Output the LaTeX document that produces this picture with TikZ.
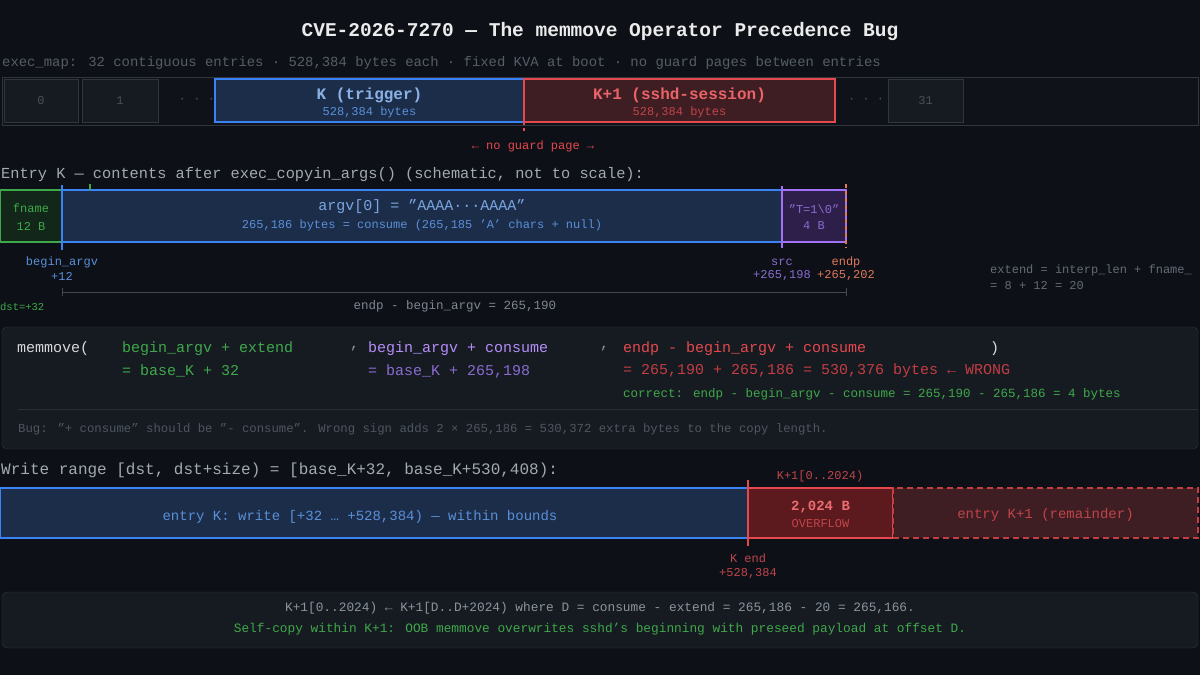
\documentclass[tikz,border=0pt]{standalone}
\usepackage{fontspec}
\setmainfont{Liberation Mono}
\begin{document}
\definecolor{bg}{HTML}{0D1117}
\definecolor{panel}{HTML}{161B22}
\definecolor{grid}{HTML}{30363D}
\definecolor{txt}{HTML}{8B949E}
\definecolor{dim}{HTML}{484F58}
\definecolor{bl}{HTML}{3B82F6}
\definecolor{blf}{HTML}{1C2D4A}
\definecolor{blt}{HTML}{5A8FD8}
\definecolor{rd}{HTML}{E5484D}
\definecolor{rdf}{HTML}{3E1E22}
\definecolor{rdt}{HTML}{C0444A}
\definecolor{rdo}{HTML}{5C1A1E}
\definecolor{gr}{HTML}{3FA84A}
\definecolor{grf}{HTML}{13261A}
\definecolor{pu}{HTML}{A371F7}
\definecolor{puf}{HTML}{2E1F4A}
\definecolor{put}{HTML}{8A6BD0}
\definecolor{og}{HTML}{E0785A}
\begin{tikzpicture}[x=1pt,y=-1pt,
  t/.style={font=\fontsize{15}{17}\selectfont,inner sep=0pt},
  s/.style={font=\fontsize{12}{14}\selectfont,inner sep=0pt},
  box/.style={line width=1.5pt}]
\fill[bg] (0,0) rectangle (1200,675);
\useasboundingbox (0,0) rectangle (1200,675);
\node[font=\fontsize{19.5}{22}\selectfont\bfseries,text=white!92!black] (title) at (600,31) {CVE-2026-7270 — The memmove Operator Precedence Bug};
\node[font=\fontsize{13.9}{16}\selectfont,inner sep=0pt,anchor=west,text=dim!80!txt] (sub) at (2,63) {exec\_map: 32 contiguous entries · 528,384 bytes each · fixed KVA at boot · no guard pages between entries};
% strip
\draw[grid,fill=bg!80!panel] (2,77) rectangle (1198,125);
\node[draw=grid,fill=panel,minimum width=74pt,minimum height=43pt,text=dim,s] (e0) at (41,100.5) {0};
\node[draw=grid,fill=panel,minimum width=76pt,minimum height=43pt,text=dim,s] (e1) at (120,100.5) {1};
\node[s,text=dim] (d1) at (197,100) {· · ·};
\node[box,draw=bl,fill=blf,minimum width=309pt,minimum height=43pt] (k) at (369.5,100.5) {};
\node[font=\fontsize{16}{18}\selectfont\bfseries,inner sep=0pt,text=blt!70!white] (kl) at (369.5,95) {K (trigger)};
\node[s,text=blt] (kb) at (369.5,112) {528,384 bytes};
\node[box,draw=rd,fill=rdf,minimum width=311pt,minimum height=43pt] (k1) at (679.5,100.5) {};
\node[font=\fontsize{16}{18}\selectfont\bfseries,inner sep=0pt,text=rd!85!white] (k1l) at (679.5,95) {K+1 (sshd-session)};
\node[s,text=rdt] (k1b) at (679.5,112) {528,384 bytes};
\node[s,text=dim] (d2) at (866,100) {· · ·};
\node[draw=grid,fill=panel,minimum width=75pt,minimum height=43pt,text=dim,s] (e31) at (925.5,100.5) {31};
\coordinate (g1) at (524,122); \coordinate (g2) at (524,134);
\draw[rd,dash pattern=on 3pt off 3pt,line width=1.2pt] (g1) -- (g2);
\node[s,text=rd] (ng) at (533,146) {← no guard page →};
% entry K
\node[font=\fontsize{15.3}{17}\selectfont,inner sep=0pt,anchor=west,text=txt!80!white] (ek) at (1,175) {Entry K — contents after exec\_copyin\_args() (schematic, not to scale):};
\node[box,draw=gr,fill=grf,minimum width=62pt,minimum height=52pt,inner sep=0pt] (fn) at (31,216) {};
\node[s,text=gr] at (31,208) {fname};
\node[s,text=gr] at (31,226) {12 B};
\node[box,draw=bl,fill=blf,minimum width=720pt,minimum height=52pt,inner sep=0pt] (argv) at (422,216) {};
\node[t,text=blt!80!white] at (422,207) {argv[0] = "AAAA···AAAA"};
\node[s,text=blt] at (422,225) {265,186 bytes = consume (265,185 'A' chars + null)};
\node[box,draw=pu,fill=puf,minimum width=64pt,minimum height=52pt,inner sep=0pt] (tb) at (814,216) {};
\node[s,text=put] at (814,209) {"T=1\textbackslash0"};
\node[s,text=put] at (814,226) {4 B};
\coordinate (ba1) at (62,185); \coordinate (ba2) at (62,250);
\draw[bl,line width=1.5pt] (ba1) -- (ba2);
\coordinate (gt1) at (90,184); \coordinate (gt2) at (90,190);
\draw[gr,line width=1.5pt] (gt1) -- (gt2);
\coordinate (sr1) at (782,186); \coordinate (sr2) at (782,248);
\draw[pu,line width=1.5pt] (sr1) -- (sr2);
\coordinate (ep1) at (846,184); \coordinate (ep2) at (846,248);
\draw[og,dash pattern=on 4pt off 3pt,line width=1.3pt] (ep1) -- (ep2);
\node[s,text=blt] (lba) at (62,262) {begin\_argv};
\node[s,text=blt] (lba2) at (62,276) {+12};
\node[s,text=put] (lsr) at (782,262) {src};
\node[s,text=put] (lsr2) at (782,276) {+265,198};
\node[s,text=og] (lep) at (846,262) {endp};
\node[s,text=og] (lep2) at (846,276) {+265,202};
\node[s,text=dim!60!txt,anchor=west] (ex1) at (990,270) {extend = interp\_len + fname\_};
\node[s,text=dim!60!txt,anchor=west] (ex2) at (990,286) {= 8 + 12 = 20};
\node[font=\fontsize{10.5}{12}\selectfont,inner sep=0pt,text=gr,anchor=west] (dst) at (0,307) {dst=+32};
\coordinate (m1) at (62,292); \coordinate (m2) at (846,292);
\draw[grid!80!txt] (m1) -- (m2);
\draw[grid!80!txt] (62,288) -- (62,296) (846,288) -- (846,296);
\node[font=\fontsize{12.5}{14}\selectfont,inner sep=0pt,text=txt!80!dim] (ml) at (455,306) {endp - begin\_argv = 265,190};
% code panel
\draw[grid,fill=panel,rounded corners=5pt] (2,327) rectangle (1198,449);
\node[t,anchor=west,text=white!85!black] (mm) at (17,349) {memmove(};
\node[t,anchor=west,text=gr] at (122,349) {begin\_argv + extend};
\node[t,anchor=west,text=gr] at (122,371) {= base\_K + 32};
\node[t,anchor=west,text=txt] at (350,349) {,};
\node[t,anchor=west,text=pu!80!white] at (368,349) {begin\_argv + consume};
\node[t,anchor=west,text=put] at (368,371) {= base\_K + 265,198};
\node[t,anchor=west,text=txt] at (600,349) {,};
\node[t,anchor=west,text=rd] at (623,349) {endp - begin\_argv + consume};
\node[t,anchor=west,text=rd!85!black] at (623,371) {= 265,190 + 265,186 = 530,376 bytes ← WRONG};
\node[font=\fontsize{12.5}{14}\selectfont,inner sep=0pt,anchor=west,text=gr] at (623,394) {correct: endp - begin\_argv - consume = 265,190 - 265,186 = 4 bytes};
\node[t,anchor=west,text=white!85!black] at (990,349) {)};
\draw[grid!70!panel] (18,409) -- (1198,409);
\node[font=\fontsize{12.3}{14}\selectfont,inner sep=0pt,anchor=west,text=dim!90!txt] (bug) at (18,429) {Bug: "+ consume" should be "- consume". Wrong sign adds 2 × 265,186 = 530,372 extra bytes to the copy length.};
% write range
\node[font=\fontsize{16}{18}\selectfont,inner sep=0pt,anchor=west,text=txt!80!white] (wr) at (1,470) {Write range [dst, dst+size) = [base\_K+32, base\_K+530,408):};
\node[box,draw=bl,fill=blf,minimum width=748pt,minimum height=50pt,inner sep=0pt] (wk) at (374,513) {};
\node[font=\fontsize{14}{16}\selectfont,inner sep=0pt,text=blt] at (360,517) {entry K: write [+32 … +528,384) — within bounds};
\node[box,draw=rd,fill=rdo,minimum width=145pt,minimum height=50pt,inner sep=0pt] (ov) at (820.5,513) {};
\node[font=\fontsize{14}{16}\selectfont\bfseries,inner sep=0pt,text=rd!80!white] at (820.5,507) {2,024 B};
\node[s,text=rdt] at (820.5,524) {OVERFLOW};
\node[line width=1.2pt,dash pattern=on 6pt off 4pt,draw=rd!85!black,fill=rdf,minimum width=305pt,minimum height=50pt,inner sep=0pt] (rem) at (1045.5,513) {};
\node[font=\fontsize{14}{16}\selectfont,inner sep=0pt,text=rdt] at (1045.5,515) {entry K+1 (remainder)};
\coordinate (ke1) at (748,480); \coordinate (ke2) at (748,546);
\draw[rd,line width=2pt] (ke1) -- (ke2);
\node[s,text=rdt] (k10) at (820,476) {K+1[0..2024)};
\node[s,text=rdt] (kend) at (748,558) {K end};
\node[s,text=rdt] (kend2) at (748,574) {+528,384};
% bottom panel
\draw[grid,fill=panel,rounded corners=5pt] (2,592) rectangle (1198,648);
\node[font=\fontsize{12.8}{15}\selectfont,inner sep=0pt,text=txt] (b1) at (600,608) {K+1[0..2024) ← K+1[D..D+2024) where D = consume - extend = 265,186 - 20 = 265,166.};
\node[font=\fontsize{12.8}{15}\selectfont,inner sep=0pt,text=gr] (b2) at (600,629) {Self-copy within K+1: OOB memmove overwrites sshd's beginning with preseed payload at offset D.};
\end{tikzpicture}
\end{document}
